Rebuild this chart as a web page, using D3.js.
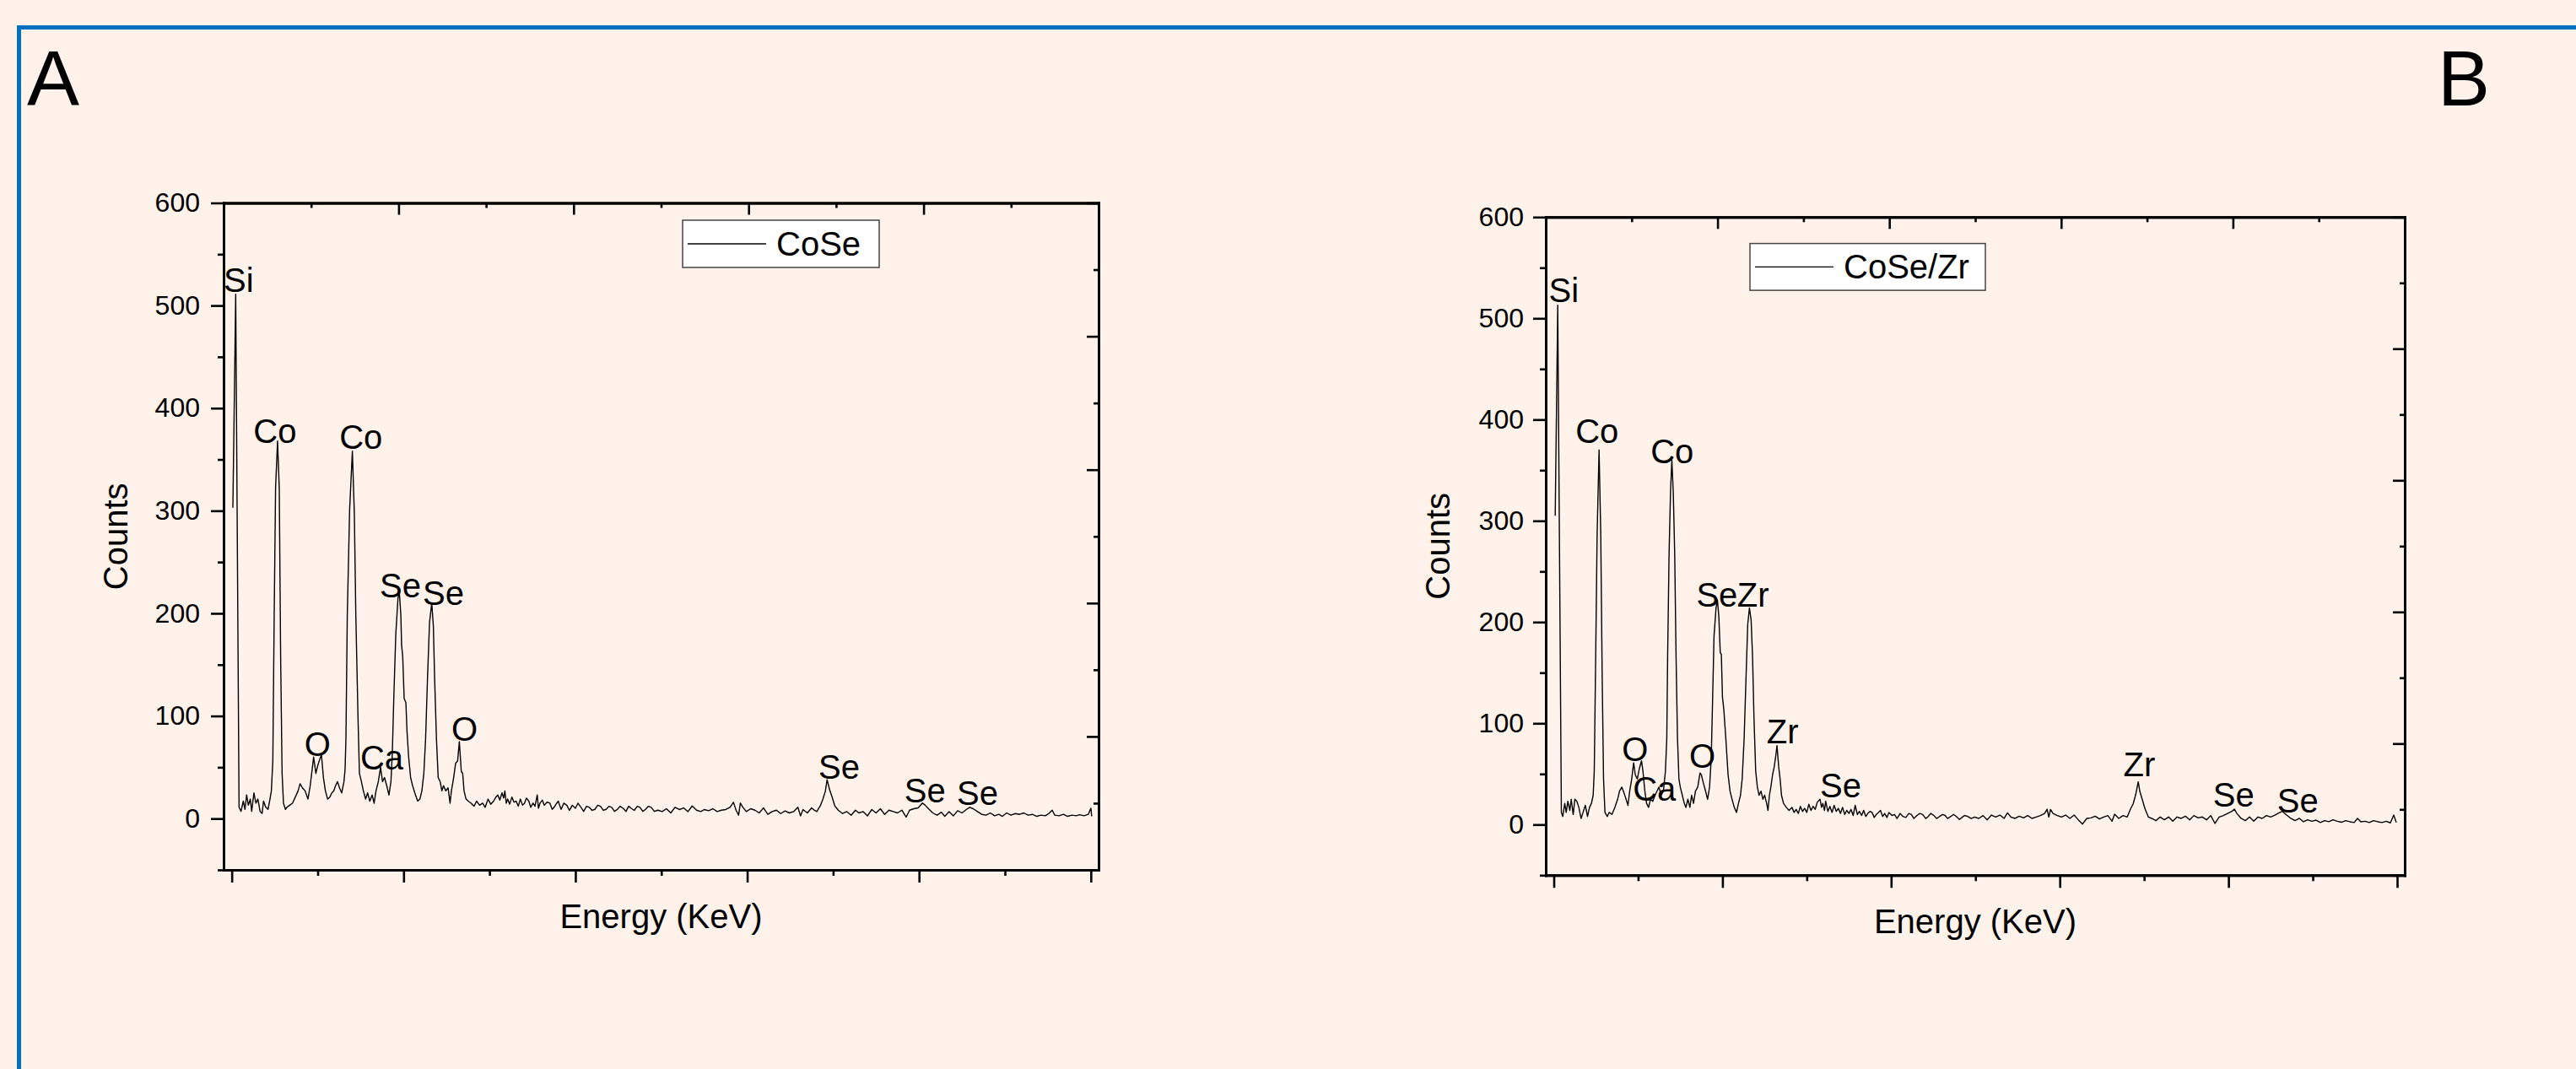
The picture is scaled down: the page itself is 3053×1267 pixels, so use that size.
<!DOCTYPE html>
<html>
<head>
<meta charset="utf-8">
<style>
  body { margin: 0; background: #fff2ea; }
  svg { display: block; }
  text { font-family: "Liberation Sans", Arial, sans-serif; fill: #000; }
</style>
</head>
<body>
<div id="figure"></div>

<script src="https://d3js.org/d3.v7.min.js"></script>

<script>
    // EDS spectra: [energy, counts]
    var coseSpectrum = [
      [0.013,303],[0.046,511],[0.085,11],[0.108,7],[0.134,17],[0.154,9],[0.173,23],[0.193,13],[0.216,19],[0.232,7],
      [0.258,25],[0.281,15],[0.304,19],[0.330,7],[0.353,5],[0.370,17],[0.396,11],[0.422,9],[0.445,19],[0.461,27],
      [0.478,56],[0.494,199],[0.510,322],[0.533,368],[0.553,322],[0.569,158],[0.586,44],[0.602,15],[0.625,9],[0.641,11],
      [0.674,13],[0.707,15],[0.740,21],[0.772,27],[0.795,34],[0.822,30],[0.854,27],[0.887,19],[0.913,32],[0.936,48],
      [0.953,60],[0.979,44],[1.002,52],[1.025,58],[1.044,62],[1.067,40],[1.090,27],[1.116,19],[1.142,21],[1.165,25],
      [1.188,27],[1.208,32],[1.231,36],[1.254,30],[1.280,25],[1.306,36],[1.319,48],[1.329,77],[1.345,199],[1.372,301],
      [1.404,358],[1.427,297],[1.444,199],[1.470,97],[1.486,44],[1.509,36],[1.532,27],[1.558,19],[1.581,25],[1.607,17],
      [1.634,23],[1.657,15],[1.679,27],[1.706,36],[1.732,50],[1.755,36],[1.778,40],[1.804,32],[1.830,23],[1.853,36],
      [1.869,64],[1.886,117],[1.909,179],[1.935,215],[1.951,220],[1.968,199],[1.977,169],[1.990,158],[2.007,117],[2.027,113],
      [2.040,85],[2.059,60],[2.082,40],[2.105,32],[2.131,25],[2.164,17],[2.190,19],[2.213,27],[2.236,44],[2.256,77],
      [2.279,138],[2.302,191],[2.328,210],[2.347,187],[2.361,138],[2.383,77],[2.403,40],[2.426,36],[2.446,27],[2.465,32],
      [2.492,27],[2.518,30],[2.541,15],[2.557,27],[2.583,40],[2.606,54],[2.629,56],[2.649,75],[2.672,46],[2.688,44],
      [2.704,27],[2.727,19],[2.753,17],[2.786,15],[2.82,12],[2.85,17],[2.885,13],[2.92,15],[2.95,11],[2.983,19],
      [3.015,14],[3.048,17],[3.075,21],[3.097,23],[3.12,18],[3.146,25],[3.165,20],[3.179,27],[3.195,15],[3.212,19],
      [3.235,14],[3.261,21],[3.285,16],[3.31,17],[3.335,12],[3.359,19],[3.385,13],[3.408,15],[3.43,20],[3.458,17],
      [3.48,11],[3.507,15],[3.53,12],[3.556,23],[3.57,10],[3.588,15],[3.615,18],[3.638,13],[3.67,16],[3.703,15],
      [3.73,9],[3.752,11],[3.775,14],[3.801,17],[3.82,12],[3.834,9],[3.865,15],[3.9,13],[3.93,8],[3.965,13],
      [4.0,10],[4.03,15],[4.065,11],[4.096,7],[4.13,12],[4.161,11],[4.195,8],[4.227,9],[4.26,13],[4.292,12],
      [4.325,8],[4.358,9],[4.39,12],[4.423,11],[4.455,7],[4.489,9],[4.52,12],[4.555,10],[4.59,7],[4.62,12],
      [4.65,10],[4.685,8],[4.72,12],[4.751,11],[4.785,7],[4.816,9],[4.85,12],[4.882,11],[4.92,7],[4.96,8.2],
      [5.01,6.8],[5.06,9.6],[5.11,5.5],[5.16,11],[5.21,8.8],[5.26,10.4],[5.31,6.8],[5.36,12.3],[5.41,8.2],[5.46,6.8],
      [5.5,8.8],[5.55,7.7],[5.6,9.6],[5.65,6.8],[5.7,8.2],[5.75,8.8],[5.8,11],[5.84,15.9],[5.87,8.2],[5.9,3.3],
      [5.92,15.1],[5.95,11],[5.99,6.8],[6.04,9.6],[6.09,8.2],[6.14,5.5],[6.19,10.4],[6.24,4.1],[6.29,6.8],[6.34,8.2],
      [6.39,4.9],[6.44,7.4],[6.49,5.5],[6.54,6.8],[6.59,11],[6.62,2.7],[6.65,8.8],[6.7,5.5],[6.75,10.4],[6.78,8.2],
      [6.81,6.8],[6.85,12.3],[6.88,18.6],[6.91,26.8],[6.93,37.8],[6.96,27.9],[6.99,20.5],[7.02,12.3],[7.06,8.2],[7.11,4.9],
      [7.16,6.8],[7.21,3.3],[7.26,8.2],[7.3,5.5],[7.35,6.8],[7.4,2.7],[7.45,8.8],[7.5,5.5],[7.55,9.6],[7.6,4.1],
      [7.65,8.2],[7.7,6.8],[7.75,5.5],[7.8,8.2],[7.85,1.4],[7.89,8.2],[7.94,9.6],[7.99,10.4],[8.04,15.1],[8.07,13.2],
      [8.11,9.6],[8.16,5.5],[8.21,3.3],[8.26,6.2],[8.3,2.2],[8.35,6.8],[8.4,2.7],[8.45,7.7],[8.5,5.5],[8.55,8.8],
      [8.59,11],[8.63,9.6],[8.68,6.8],[8.73,4.1],[8.78,3.3],[8.83,5.5],[8.88,2.7],[8.93,4.1],[8.97,2.2],[9.02,5.5],
      [9.07,3.3],[9.12,4.9],[9.17,4.1],[9.22,5.5],[9.27,3.3],[9.32,4.1],[9.37,2.2],[9.42,3.3],[9.47,2.7],[9.51,4.9],
      [9.55,8.2],[9.58,3.3],[9.63,2.7],[9.68,4.1],[9.73,2.2],[9.78,3.3],[9.83,2.7],[9.87,3.8],[9.92,2.7],[9.97,4.1],
      [10.0,10.1],[10.01,2.2]
    ];

    var coseZrSpectrum = [
      [0.017,305],[0.047,513],[0.090,12],[0.107,8],[0.130,21],[0.147,12],[0.167,23],[0.190,14],[0.207,25],[0.230,10],
      [0.250,25],[0.274,23],[0.297,17],[0.324,6],[0.347,12],[0.374,19],[0.400,8],[0.424,17],[0.447,21],[0.467,29],
      [0.480,53],[0.497,166],[0.514,287],[0.537,370],[0.557,287],[0.574,146],[0.590,45],[0.607,12],[0.634,8],[0.657,12],
      [0.690,10],[0.724,17],[0.757,25],[0.780,33],[0.807,37],[0.834,31],[0.857,25],[0.880,19],[0.900,33],[0.924,45],
      [0.947,61],[0.967,49],[0.990,45],[1.014,55],[1.040,63],[1.057,53],[1.080,33],[1.100,21],[1.124,17],[1.147,25],
      [1.174,23],[1.200,29],[1.224,33],[1.247,37],[1.274,29],[1.300,33],[1.324,53],[1.340,85],[1.350,166],[1.367,267],
      [1.384,328],[1.400,360],[1.417,328],[1.434,267],[1.450,166],[1.467,85],[1.484,45],[1.500,37],[1.524,29],[1.547,21],
      [1.567,17],[1.590,25],[1.614,17],[1.634,29],[1.657,21],[1.680,33],[1.707,37],[1.734,51],[1.750,49],[1.774,41],
      [1.800,33],[1.824,25],[1.847,37],[1.867,65],[1.884,126],[1.900,186],[1.924,214],[1.940,222],[1.957,206],[1.974,170],
      [1.987,168],[2.000,126],[2.017,113],[2.040,85],[2.067,49],[2.090,33],[2.114,25],[2.140,17],[2.167,12],[2.190,21],
      [2.214,29],[2.234,45],[2.257,85],[2.280,146],[2.300,198],[2.320,214],[2.340,202],[2.357,166],[2.374,105],[2.394,53],
      [2.414,37],[2.434,29],[2.457,33],[2.480,25],[2.500,29],[2.524,21],[2.540,14],[2.557,29],[2.574,37],[2.594,49],
      [2.614,57],[2.634,69],[2.647,78],[2.667,57],[2.684,45],[2.700,29],[2.724,21],[2.757,17],[2.79,14],[2.824,17],
      [2.85,12],[2.874,15],[2.9,11],[2.924,18],[2.95,13],[2.974,16],[3.0,12],[3.024,20],[3.05,14],[3.074,18],
      [3.1,15],[3.124,22],[3.157,25],[3.175,17],[3.19,21],[3.21,14],[3.224,23],[3.25,13],[3.274,18],[3.3,12],
      [3.324,19],[3.35,13],[3.374,16],[3.4,11],[3.424,17],[3.45,10],[3.474,14],[3.5,11],[3.524,15],[3.55,9],
      [3.574,19],[3.6,10],[3.624,13],[3.65,9],[3.674,14],[3.7,8],[3.724,11],[3.75,13],[3.774,12],[3.8,7],
      [3.824,10],[3.85,12],[3.874,14],[3.9,8],[3.924,11],[3.95,7],[3.974,12],[4.01,9],[4.04,10],[4.07,6],
      [4.107,11],[4.14,8],[4.174,7],[4.21,11],[4.24,10],[4.27,6],[4.307,9],[4.34,11],[4.374,10],[4.41,6],
      [4.44,8],[4.47,11],[4.507,9],[4.54,6],[4.574,8],[4.61,10],[4.64,9],[4.67,6],[4.707,8],[4.74,10],
      [4.774,8],[4.81,5],[4.84,7],[4.87,9],[4.907,8],[4.95,6],[4.99,7.5],[5.04,6.1],[5.09,8.9],[5.14,4.7],
      [5.19,9.4],[5.24,7.5],[5.29,9.4],[5.34,6.1],[5.38,11.6],[5.42,7.5],[5.47,6.1],[5.52,8.3],[5.57,6.6],[5.62,8.9],
      [5.67,6.1],[5.72,7.5],[5.77,8.9],[5.82,11],[5.85,15.2],[5.87,7.5],[5.89,14.9],[5.92,11],[5.97,8.9],[6.02,7.5],
      [6.07,9.4],[6.12,6.1],[6.17,9.4],[6.22,4.7],[6.27,0.5],[6.32,6.1],[6.37,6.6],[6.42,8.3],[6.47,5.5],[6.52,7.5],
      [6.57,8.9],[6.62,3.3],[6.65,10.2],[6.7,6.1],[6.75,8.9],[6.8,7.5],[6.84,15.7],[6.87,20.5],[6.9,29.6],[6.93,42.2],
      [6.95,32.5],[6.98,24.2],[7.01,15.7],[7.05,7.5],[7.09,6.1],[7.14,3.9],[7.19,7.5],[7.24,4.7],[7.29,7.5],[7.34,3.3],
      [7.39,7.5],[7.44,6.1],[7.49,8.3],[7.54,4.7],[7.59,8.9],[7.64,6.6],[7.69,7.5],[7.74,4.7],[7.79,8.9],[7.84,1.1],
      [7.89,7.5],[7.94,8.9],[7.99,11],[8.04,13],[8.07,15.2],[8.1,11],[8.15,6.1],[8.2,3.9],[8.25,7.5],[8.3,3.3],
      [8.35,7.5],[8.4,6.1],[8.45,8.9],[8.5,7.5],[8.55,9.4],[8.6,11.6],[8.64,13],[8.69,9.4],[8.74,6.1],[8.79,3.9],
      [8.84,6.1],[8.89,2.8],[8.94,4.7],[8.99,3.3],[9.04,4.4],[9.09,2.0],[9.14,3.9],[9.19,2.8],[9.24,4.7],[9.29,3.3],
      [9.34,2.3],[9.39,3.9],[9.44,2.8],[9.49,2.0],[9.53,6.1],[9.57,2.8],[9.62,3.3],[9.67,2.0],[9.72,3.9],[9.77,2.8],
      [9.82,2.0],[9.87,3.3],[9.92,1.7],[9.96,9.4],[9.99,2.0]
    ];

    // peak annotations: [text, energy at left edge of text, counts at baseline]
    var coseLabels = [
      ["Si",-0.095,513],["Co",0.252,366],["Co",1.253,360],["O",0.845,61],["Ca",1.496,48],
      ["Se",1.722,216],["Se",2.223,208],["O",2.557,76],["Se",6.83,39],["Se",7.829,16],["Se",8.441,13]
    ];
    var coseZrLabels = [
      ["Si",-0.06,516],["Co",0.257,377],["Co",1.147,357],["O",0.807,63],["Ca",0.937,24],["O",1.607,56],
      ["Se",1.69,215],["Zr",2.174,215],["Zr",2.524,80],["Se",3.157,27],["Zr",6.754,48],["Se",7.817,18],["Se",8.577,12]
    ];

    var countTicks = [0, 100, 200, 300, 400, 500, 600];
    var countMinorTicks = [-50, 50, 150, 250, 350, 450, 550];
    var energyTicks = [0, 2, 4, 6, 8, 10];
    var energyMinorTicks = [1, 3, 5, 7, 9];
    var frameTicks = [0, 2, 4, 6, 8, 10];      // top / right mirror axes
    var frameMinorTicks = [1, 3, 5, 7, 9];

    var energyDomain = [-0.095, 10.09];
    var countDomain = [-50, 600];

    var W = 3053, H = 1267;

    var svg = d3.select("#figure")
        .append("svg")
        .attr("width", W)
        .attr("height", H);

    svg.append("rect").attr("width", W).attr("height", H).attr("fill", "#fff2ea");

    // blue frame of the figure
    svg.append("path")
        .attr("d", "M22.5," + H + "V32.5H" + W)
        .attr("fill", "none")
        .attr("stroke", "#0070c0")
        .attr("stroke-width", 5);

    svg.append("text").attr("x", 32).attr("y", 125).attr("font-size", 93).text("A");
    svg.append("text").attr("x", 2889).attr("y", 125).attr("font-size", 93).text("B");

    var panels = [
      { left: 265, right: 1302, top: 240.5, bottom: 1031, data: coseSpectrum, labels: coseLabels,
        name: "CoSe", legend: { x: 809, y: 261, w: 233, h: 56 }, tickPad: 13 },
      { left: 1832, right: 2850, top: 257.3, bottom: 1037.3, data: coseZrSpectrum, labels: coseZrLabels,
        name: "CoSe/Zr", legend: { x: 2074, y: 288.6, w: 279, h: 55.5 }, tickPad: 11 }
    ];

    panels.forEach(drawPanel);

    function styleAxis(g) {
      g.select(".domain").attr("stroke-width", 3).attr("stroke-linecap", "square");
      g.selectAll(".tick line").attr("stroke-width", 2.6);
      g.attr("font-family", "'Liberation Sans', Arial, sans-serif").attr("font-size", 32);
    }

    function drawPanel(p) {
      var x = d3.scaleLinear().domain(energyDomain).range([p.left, p.right]);
      var y = d3.scaleLinear().domain(countDomain).range([p.bottom, p.top]);
      var xTop = d3.scaleLinear().domain([0, 10]).range([p.left, p.right]);
      var yRight = d3.scaleLinear().domain([0, 10]).range([p.bottom, p.top]);

      var g = svg.append("g");

      // bottom axis (ticks outward)
      g.append("g").attr("transform", "translate(0," + p.bottom + ")")
          .call(d3.axisBottom(x).tickValues(energyMinorTicks).tickSize(7).tickSizeOuter(0).tickFormat(""))
          .call(styleAxis);
      g.append("g").attr("transform", "translate(0," + p.bottom + ")")
          .call(d3.axisBottom(x).tickValues(energyTicks).tickSize(15).tickSizeOuter(0).tickFormat(""))
          .call(styleAxis);

      // left axis (ticks outward, labelled)
      g.append("g").attr("transform", "translate(" + p.left + ",0)")
          .call(d3.axisLeft(y).tickValues(countMinorTicks).tickSize(7).tickSizeOuter(0).tickFormat(""))
          .call(styleAxis);
      g.append("g").attr("transform", "translate(" + p.left + ",0)")
          .call(d3.axisLeft(y).tickValues(countTicks).tickSize(15).tickSizeOuter(0).tickPadding(p.tickPad))
          .call(styleAxis);

      // top axis (ticks inward)
      g.append("g").attr("transform", "translate(0," + p.top + ")")
          .call(d3.axisTop(xTop).tickValues(frameMinorTicks).tickSize(-6).tickSizeOuter(0).tickFormat(""))
          .call(styleAxis);
      g.append("g").attr("transform", "translate(0," + p.top + ")")
          .call(d3.axisTop(xTop).tickValues(frameTicks).tickSize(-14).tickSizeOuter(0).tickFormat(""))
          .call(styleAxis);

      // right axis (ticks inward)
      g.append("g").attr("transform", "translate(" + p.right + ",0)")
          .call(d3.axisRight(yRight).tickValues(frameMinorTicks).tickSize(-6).tickSizeOuter(0).tickFormat(""))
          .call(styleAxis);
      g.append("g").attr("transform", "translate(" + p.right + ",0)")
          .call(d3.axisRight(yRight).tickValues(frameTicks).tickSize(-14).tickSizeOuter(0).tickFormat(""))
          .call(styleAxis);

      // spectrum
      var line = d3.line()
          .x(function(d) { return x(d[0]); })
          .y(function(d) { return y(d[1]); });

      g.append("path")
          .datum(p.data)
          .attr("d", line)
          .attr("fill", "none")
          .attr("stroke", "#000")
          .attr("stroke-width", 1.4)
          .attr("stroke-linejoin", "round");

      // peak labels
      g.selectAll(".peak")
          .data(p.labels)
          .enter().append("text")
          .attr("class", "peak")
          .attr("x", function(d) { return x(d[1]); })
          .attr("y", function(d) { return y(d[2]); })
          .attr("font-size", 40)
          .text(function(d) { return d[0]; });

      // axis titles
      g.append("text")
          .attr("transform", "translate(" + (p.left - 114) + "," + ((p.top + p.bottom) / 2) + ") rotate(-90)")
          .attr("text-anchor", "middle")
          .attr("font-size", 40)
          .text("Counts");

      g.append("text")
          .attr("x", (p.left + p.right) / 2)
          .attr("y", p.bottom + 69)
          .attr("text-anchor", "middle")
          .attr("font-size", 40)
          .text("Energy (KeV)");

      // legend
      var lg = p.legend;
      g.append("rect")
          .attr("x", lg.x).attr("y", lg.y).attr("width", lg.w).attr("height", lg.h)
          .attr("fill", "#fff").attr("stroke", "#444").attr("stroke-width", 1.5);
      g.append("line")
          .attr("x1", lg.x + 6).attr("x2", lg.x + 99)
          .attr("y1", lg.y + lg.h / 2).attr("y2", lg.y + lg.h / 2)
          .attr("stroke", "#000").attr("stroke-width", 1.4);
      g.append("text")
          .attr("x", lg.x + 111)
          .attr("y", lg.y + lg.h / 2 + 14)
          .attr("font-size", 40)
          .text(p.name);
    }
</script>
</body>
</html>
